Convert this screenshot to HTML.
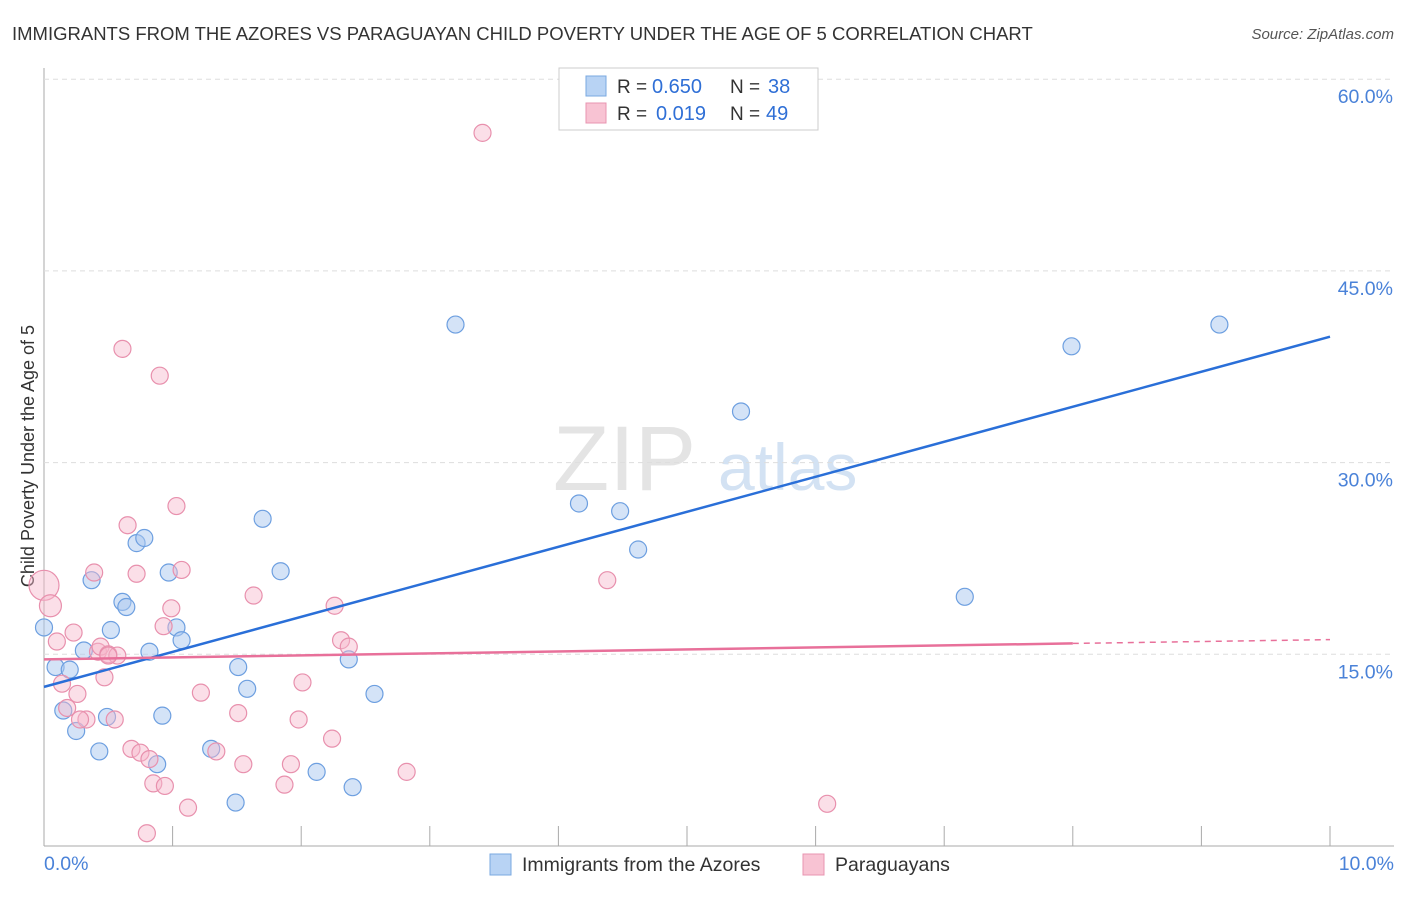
<!DOCTYPE html>
<html><head><meta charset="utf-8"><style>
body{margin:0;background:#fff;font-family:"Liberation Sans",sans-serif}
svg text{font-family:"Liberation Sans",sans-serif}
</style></head><body>
<svg id="c" width="1406" height="892" xmlns="http://www.w3.org/2000/svg">
<text x="12" y="40" font-size="18.5" fill="#333">IMMIGRANTS FROM THE AZORES VS PARAGUAYAN CHILD POVERTY UNDER THE AGE OF 5 CORRELATION CHART</text>
<text x="1394" y="39" font-size="15" fill="#555" font-style="italic" text-anchor="end">Source: ZipAtlas.com</text>
<text transform="translate(34,456) rotate(-90)" font-size="18" fill="#333" text-anchor="middle">Child Poverty Under the Age of 5</text>
<text x="553" y="490" font-size="92" fill="#e4e4e4" font-family="Liberation Serif">ZIP</text>
<text x="718" y="490" font-size="66" fill="#d3e2f3">atlas</text>
<g id="grid"></g><g id="pts"></g><g id="trend"></g>
<g>
<rect x="559" y="68" width="259" height="62" fill="#fff" stroke="#ccc"/>
<rect x="586" y="76" width="20" height="20" fill="#b8d3f4" stroke="#7aa8e0"/>
<rect x="586" y="103" width="20" height="20" fill="#f8c3d3" stroke="#e894b0"/>
<text x="617" y="93" font-size="19" fill="#333">R =</text><text x="652" y="93" font-size="20" fill="#2f6fd6">0.650</text>
<text x="730" y="93" font-size="19" fill="#333">N =</text><text x="768" y="93" font-size="20" fill="#2f6fd6">38</text>
<text x="617" y="120" font-size="19" fill="#333">R =</text><text x="656" y="120" font-size="20" fill="#2f6fd6">0.019</text>
<text x="730" y="120" font-size="19" fill="#333">N =</text><text x="766" y="120" font-size="20" fill="#2f6fd6">49</text>
</g>
<g>
<rect x="490" y="854" width="21" height="21" fill="#b8d3f4" stroke="#7aa8e0"/>
<text x="522" y="871" font-size="19.5" fill="#333">Immigrants from the Azores</text>
<rect x="803" y="854" width="21" height="21" fill="#f8c3d3" stroke="#e894b0"/>
<text x="835" y="871" font-size="19.5" fill="#333">Paraguayans</text>
</g>
</svg>
<script>
const yTicks=[15,30,45,60];
const yTickLabels=["15.0%","30.0%","45.0%","60.0%"];
const xTickLabels=["0.0%","10.0%"];
const blueX=[0,0.09,0.2,0.15,0.25,0.31,0.37,0.43,0.49,0.52,0.61,0.64,0.72,0.78,0.82,0.88,0.92,0.97,1.03,1.07,1.3,1.49,1.51,1.58,1.7,1.84,2.12,2.37,2.4,2.57,3.2,4.16,4.48,4.62,5.42,7.16,7.99,9.14];
const blueY=[17.1,14,13.8,10.6,9.0,15.3,20.8,7.4,10.1,16.9,19.1,18.7,23.7,24.1,15.2,6.4,10.2,21.4,17.1,16.1,7.6,3.4,14.0,12.3,25.6,21.5,5.8,14.6,4.6,11.9,40.8,26.8,26.2,23.2,34.0,19.5,39.1,40.8];
const pinkX=[0,0.05,0.1,0.14,0.18,0.23,0.26,0.33,0.39,0.42,0.44,0.47,0.5,0.55,0.57,0.61,0.65,0.68,0.72,0.75,0.82,0.85,0.9,0.94,0.93,0.99,1.03,1.07,1.12,1.22,1.34,1.51,1.55,1.63,1.87,1.92,1.98,2.01,2.24,2.26,2.31,2.37,2.82,3.41,4.38,6.09,0.8,0.5,0.28];
const pinkY=[20.4,18.8,16.0,12.7,10.8,16.7,11.9,9.9,21.4,15.2,15.6,13.2,15.0,9.9,14.9,38.9,25.1,7.6,21.3,7.3,6.8,4.9,36.8,4.7,17.2,18.6,26.6,21.6,3.0,12.0,7.4,10.4,6.4,19.6,4.8,6.4,9.9,12.8,8.4,18.8,16.1,15.6,5.8,55.8,20.8,3.3,1.0,14.9,9.9];
const X=v=>44+v*128.6, Y=v=>846-v*12.78;
const ns="http://www.w3.org/2000/svg";
function mk(t,a,p){const e=document.createElementNS(ns,t);for(const k in a)e.setAttribute(k,a[k]);p.appendChild(e);return e;}
const g=document.getElementById('grid');
mk('line',{x1:44,y1:68,x2:44,y2:846,stroke:'#aaa'},g);
mk('line',{x1:44,y1:846,x2:1394,y2:846,stroke:'#aaa'},g);
yTicks.forEach((t,i)=>{
 const l=mk('line',{x1:44,y1:Y(t),x2:1394,y2:Y(t),stroke:'#ddd','stroke-dasharray':'5,4'},g);
 
 
 const tx=mk('text',{x:1393,y:Y(t)+24,'font-size':19.5,fill:'#4a82d8','text-anchor':'end'},g);
 tx.textContent=yTickLabels[i];
 
 
});
for(let i=1;i<=10;i++){const l=mk('line',{x1:X(i),y1:826,x2:X(i),y2:846,stroke:'#aaa'},g);
 
 }
[[0,'start',44],[10,'end',1394]].forEach((d,i)=>{const t=mk('text',{x:d[2],y:870,'font-size':19.5,fill:'#4a82d8','text-anchor':d[1]},g);t.textContent=xTickLabels[i];
 
 });
const p=document.getElementById('pts');
blueX.forEach((x,i)=>{const c=mk('circle',{cx:X(x),cy:Y(blueY[i]),r:8.5,fill:'rgba(169,200,240,0.5)',stroke:'#6d9fe0','stroke-width':1.2},p);
 
 });
pinkX.forEach((x,i)=>{const c=mk('circle',{cx:X(x),cy:Y(pinkY[i]),r:i==0?15:(i==1?11:8.5),fill:'rgba(246,184,203,0.45)',stroke:'#e890ad','stroke-width':1.2},p);
 
 });
const tr=document.getElementById('trend');
let l=mk('line',{x1:X(0),y1:Y(12.45),x2:X(10),y2:Y(39.85),stroke:'#2a6fd8','stroke-width':2.5},tr);


l=mk('line',{x1:X(0),y1:Y(14.6),x2:X(8),y2:Y(15.85),stroke:'#e8709a','stroke-width':2.5},tr);


l=mk('line',{x1:X(8),y1:Y(15.85),x2:X(10),y2:Y(16.15),stroke:'#e8709a','stroke-width':1.5,'stroke-dasharray':'6,5'},tr);


</script>
</body></html>
